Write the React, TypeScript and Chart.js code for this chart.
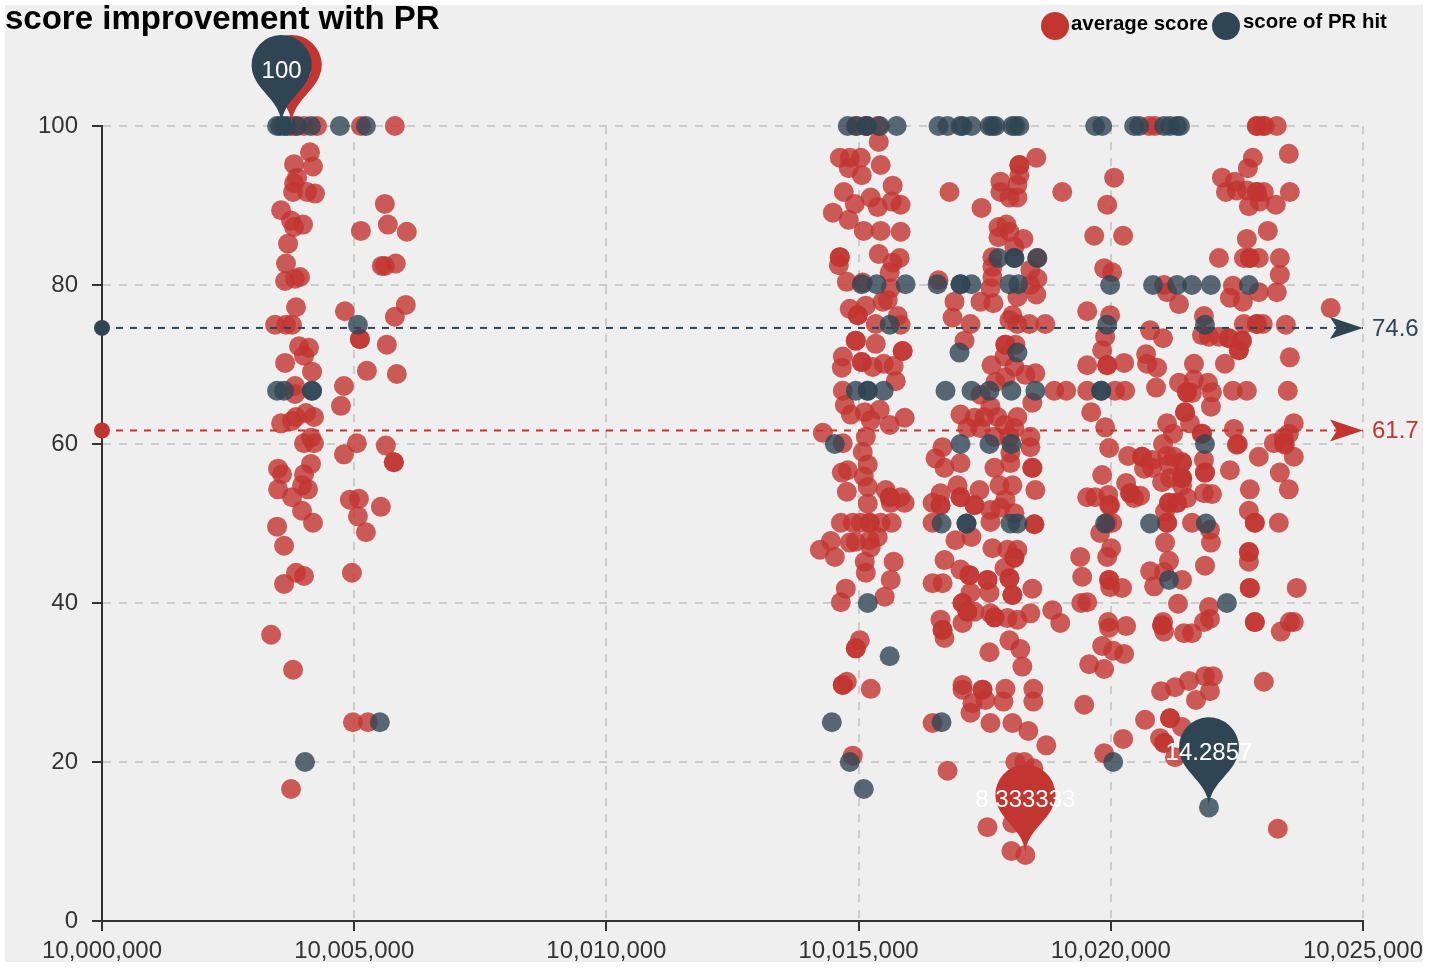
import React, { useEffect, useRef } from "react";
import { Chart, registerables } from "chart.js";

Chart.register(...registerables);

const titleText = "score improvement with PR";
const legendNames = ["average score", "score of PR hit"];
const firstPosition = 10000000;
const xSpan = 25000;
const xStep = 5000;
const yMax = 100;
const yStep = 20;
const averageMean = 61.7;
const hitMean = 74.6;

type P = [number, number];

// values: [position - firstPosition, score]
const avgLeftGroup: P[] = [
  [3748,100],[3827,100],[4005,100],[4263,100],
  [4124,96.7],[4183,94.9],[3808,95.2],[3867,93.5],[3808,92.8],[3788,91.7],[4065,91.7],[4223,91.5],[3550,89.4],[3748,88.1],[3808,87.3],[3986,87.6],[3689,85.2],[3649,82.7],[3630,80.5],[3827,80.8],[3926,81],[3847,77.2],
  [3432,75],[3649,75],[3768,75],[3906,72.3],[4104,72.1],[4005,71.1],[3630,70.2],[4164,69.1],[3827,67.3],[3827,66.3],[3847,63.4],[4045,63.9],[4203,63.4],[3550,62.6],[3768,62.9],[4144,60.8],[4005,60.1],[4203,60.1],
  [4144,57.5],[3491,56.9],[3570,56.2],[4005,56.2],[3966,54.8],[3491,54.3],[4085,54.3],[3768,53.3],[3966,51.6],[4183,50.1],[3471,49.6],[3610,47.2],[3847,43.8],[4005,43.4],[3610,42.4],[3353,36],[3788,31.6],[3748,16.6],
];
const avgSecondGroup: P[] = [
  [5133,100],[5806,100],
  [5608,90.2],[5667,87.6],[5133,86.8],[6043,86.7],[5548,82.4],[5608,82.4],[5825,82.7],[6023,77.5],[4816,76.7],[5806,76],[5113,73.2],[5113,73.2],[5647,72.5],[5252,69.2],[5845,68.8],[4797,67.3],[4737,64.8],
  [5054,60.1],[5628,59.8],[4797,58.7],[5786,57.7],[5786,57.7],[4915,53],[5094,53.1],[5529,52.1],[5074,50.9],[5232,48.9],[4955,43.8],[4975,25],[5272,25],
];
const avgMidA: P[] = [
  [14945,100],[15143,100],[15380,100],
  [15400,98],[14628,96],[14826,96],[15044,96],[14806,94.7],[15439,95.1],[15063,93.8],[14707,91.7],[15676,92.5],[15241,91],[14925,90.2],[15657,90.5],[15380,89.8],[15834,90.1],[14490,89.1],[14806,88.2],[15103,86.8],[15439,86.8],[15834,86.7],
  [15400,83.9],[14628,83.5],[14628,83.5],[14608,82.5],[15815,83.4],[15676,82.8],[15617,81.6],[14767,80.4],[15083,80.3],[15578,78.1],[15637,79.6],[15479,77.9],[15143,77.4],[14826,77],[14984,76.2],[14984,76.2],[15775,76.1],[15340,75.1],[15834,75],
  [14945,73],[14945,73],[15340,72.6],[15874,71.7],[15874,71.7],[14687,71],[15063,70.3],[15063,70.3],[15281,69.7],[15498,70.1],[15696,69.8],[14668,69.6],[15736,67.9],[14687,66.7],[14727,64.9],[14846,63.7],[15419,64.3],[15123,64],[15914,63.3],[15241,63],[15617,62.4],[15143,60.9],[14292,61.4],
  [14687,60.1],[15083,59],[15182,57.4],[14786,56.7],[14668,56.4],[15103,55.9],[15182,54.6],[14767,54],[15538,54.2],[15834,53.3],[15617,53.3],[15617,53.3],[15914,52.6],[15637,52.6],[15182,52.5],
  [14648,50.1],[14885,50.1],[15044,50.1],[15222,50.1],[15222,50.1],[15439,50.1],[15657,50.1],
  [14450,47.8],[14232,46.7],[14826,47.6],[14945,47.7],[15380,48.3],[15222,47.9],[15241,47],[14529,45.8],[15123,45.2],[15696,45.2],[15143,43.8],[15637,42.9],[14747,41.8],[15518,40.8],[14648,40.1],
  [15024,35.3],[14945,34.3],[14945,34.3],[14687,29.7],[14687,29.7],[14767,30.1],[15241,29.2],[14885,20.8],
];
const avgMidB: P[] = [
  [16803,91.7],[17437,89.7],[18524,96],[18188,95.1],[18188,95.1],[18188,93.8],[17812,93],[18149,92.6],[17812,91.7],[17991,91],[18149,91],[19038,91.7],
  [17773,87.3],[17931,87.6],[17991,86.7],[17773,86],[18267,85.8],[18089,84.8],[17654,83.5],[18544,83.4],[17654,82.3],[17654,81],[18406,81.9],[18544,80.8],[18406,80],[16585,80.6],[17615,79.6],
  [16902,77.9],[17417,77.9],[17674,77.7],[18149,78.5],[18524,78.8],[18050,76.2],[16863,75.9],[17219,75.1],[17991,75.6],[18149,75.1],[18386,75.1],[18702,75.1],
  [17100,73],[17911,72.5],[17911,72.5],[18109,72.5],[17635,69.9],[17892,71],[18089,69.7],[18505,68.9],[18307,68.7],[17714,67.8],[17911,68.4],
  [18880,66.7],[19118,66.7],[19533,66.7],[17417,66.2],[18445,65.2],[17615,64.7],[17021,63.7],[17298,63.3],[17496,63.4],[17753,63.4],[18149,63.4],[17892,62.4],[18089,62],[17159,62],[17417,62],[18406,60.9],[17694,60.9],[17991,60.9],
  [16665,59.6],[16526,58.2],[16704,57],[17021,57.6],[16962,54.8],[16625,53.8],[17397,54.2],[16467,52.6],[16625,52.3],[16625,52.3],[17021,53.3],[17021,53.3],[17298,52.3],[17298,52.3],[16467,50.1],
  [16922,47.9],[17239,48.3],[17654,46.9],[16704,45.4],[17021,44.2],[17199,43.5],[17199,43.5],[16467,42.5],[16665,42.5],[17555,42.9],[17219,41.3],[17061,40],[17061,40],[17159,38.9],[17159,38.9],[17298,38.9],[17061,37.5],[16625,37.9],[16665,36.6],[16665,36.6],[16704,35.6],
  [17694,57],[18010,57.6],[18010,58.9],[18406,59.6],[18445,57],[18445,57],[18505,54.2],[17793,54.8],[18050,54.8],[17911,53],[17615,51.7],[17812,52],[18089,51.3],[17615,50.2],[18485,49.9],[18485,49.9],
  [18149,46.7],[17951,46.7],[18089,45.7],[18089,45.7],[17892,44.4],[17991,43.1],[17991,43.1],[18445,41.8],[18050,41],[18050,41],[17555,42.9],[17595,41.3],[17694,38.2],[17694,38.2],[17615,38.7],[17951,38.1],[18149,37.9],[18406,38.7],[18841,39.1],[18999,37.5],
  [17991,35.3],[18208,34.2],[17595,33.8],[18247,32],[17061,29.7],[17061,29.1],[17457,29.1],[17457,29.1],[17516,27.8],[17911,29.2],[17872,27.6],[18465,29.2],[18465,27.6],[17258,27.4],[17219,26.2],[17615,24.9],[18050,24.9],[16467,24.9],[18366,23.9],[18722,22.1],
  [16764,18.9],[18109,20],[18287,20],[18465,19.2],[17555,11.8],[18050,12.3],[18030,8.8],[18307,8.3],
];
const avgRightA: P[] = [
  [20760,100],[20880,100],
  [20067,93.5],[19929,90.1],[19672,86.2],[20245,86.2],[19869,82.1],[20028,81.6],[19988,76.2],[19533,76.7],[19889,73.5],[19830,71.8],[19929,69.9],[19929,69.9],[20265,70.2],[19533,69.9],[20285,66.7],[20087,66.7],[19612,64],[19889,62.1],[19968,59.5],
  [19830,56.1],[19533,53.3],[19691,53.3],[19949,53.6],[19968,52.3],[19988,52.3],[20028,50.1],[19929,50.1],[19790,48.8],[20008,46.9],[19929,45.8],[19394,45.8],[19434,43.3],[19968,42.9],[19968,42.9],[19988,42],[20225,41.9],[19533,40.1],[19414,40],
  [19949,37.6],[19968,36.9],[20305,37.1],[19830,34.6],[20048,34],[20265,33.6],[19572,32.3],[19869,31.7],[19473,27.2],[20245,22.9],[19869,21.1],
  [20305,55.1],[20384,53.8],[20384,53.8],[20582,53.5],[20463,53.2],[20344,58.5],[20621,58.4],[20621,58.4],[20819,58],[20661,56.9],[20819,57],
];
const avgRightB: P[] = [
  [21057,80],[21116,79.1],[21353,77.6],[21848,76.1],[20780,74.3],[21037,73.3],[21808,73.7],[22145,73.5],[21947,73.5],[22599,73],[22342,73.3],[22540,71.8],[20701,71.3],[20720,70.1],[20918,69.6],[21650,70.1],[22263,70.1],
  [20898,67.1],[21353,67.7],[21650,68.1],[21511,66.5],[21511,66.5],[21927,67.7],[22006,66.5],[21610,66.4],[21986,64.7],[21472,64],[21472,64],[21571,62.6],[21116,62.6],[21235,61.3],[21808,61.3],[21808,61.3],[21037,60],
  [21254,58.4],[21116,58.5],[21413,57.7],[21413,57.7],[21848,58],[21155,57.4],[21868,56.4],[21868,56.4],[21175,55.7],[21413,55.7],[21413,55.7],[21413,55.7],[21017,55.2],[21413,54.8],[21511,53.2],[21848,53.8],[22006,53.7],
  [21314,52.6],[21314,52.6],[21155,52.6],[21155,52.6],[21076,51.5],[21116,50.1],[21116,50.1],[21610,50.1],[21967,49.2],[21076,47.6],[21986,47.6],
  [21155,45.3],[21868,44.7],[20780,44],[21057,43.9],[21413,42.9],[20859,42.1],[21333,39.9],[21947,39.5],[21037,37.6],[21017,37.2],[21017,37.2],[21057,36.4],[21452,36.2],[21610,36.2],[21848,37.6],[21967,38],
  [21868,30.8],[22026,30.8],[21551,30.2],[21274,29.4],[20997,28.9],[21967,28.9],[21689,27.8],[20681,25.3],[21175,25.5],[21175,25.5],[21413,24.4],[20977,23],[21057,22.4],[21057,22.4],[21274,20.6],
];
const avgFarRight: P[] = [
  [22896,100],[22896,100],[23015,100],[23055,100],[23292,100],
  [22817,96],[23530,96.5],[22718,94.7],[22204,93.5],[22461,93],[22283,91.7],[22500,91.9],[22698,91.9],[22896,91.7],[22896,91.7],[23035,91.7],[23550,91.7],[22738,89.9],[22955,90.5],[23272,90.1],
  [23114,86.8],[22698,85.8],[22145,83.4],[22639,83.4],[22757,83.4],[22757,83.4],[22935,83.4],[23352,83.4],[23352,81.3],[23292,79.1],[22421,79.9],[22935,79.1],[22362,78.4],[22619,77.9],
  [24360,77.1],[22639,75.1],[22896,75.1],[22896,75.1],[23015,75.1],[23471,75],[22599,73],[22342,73.3],[22540,71.8],[23550,70.9],
  [22421,66.7],[22698,66.7],[23510,66.7],[22441,61.9],[23629,62.6],[23431,60.8],[23530,61.3],[22520,60],[23233,60.1],[23431,60.1],[23451,59.9],
  [22500,59.9],[22935,58.4],[23629,58.4],[22362,56.7],[23352,56.4],[22757,54.3],[23530,54.3],[22738,51.6],[22856,50.1],[22856,50.1],[23332,50.1],[22738,46.4],[22738,46.4],[22738,45.2],[22757,41.9],[22757,41.9],[23687,41.9],
  [22856,37.6],[22856,37.6],[23550,37.6],[23629,37.6],[23371,36.4],[23035,30.1],[23312,11.6],
];
const avgScores: P[] = [
  ...avgLeftGroup, ...avgSecondGroup, ...avgMidA, ...avgMidB, ...avgRightA, ...avgRightB, ...avgFarRight,
];
const hitTopRow: P[] = [
  [3471,100],[3531,100],[3610,100],[3669,100],[3867,100],[4144,100],[4717,100],[5232,100],
  [14786,100],[14964,100],[15162,100],[15162,100],[15419,100],[15755,100],
  [16585,100],[16764,100],[17021,100],[17061,100],[17239,100],
  [17595,100],[17654,100],[17714,100],[18050,100],[18109,100],[18188,100],
  [19691,100],[19830,100],[20463,100],[20562,100],[21057,100],[21175,100],[21314,100],[21373,100],
];
const hitEighty: P[] = [
  [15063,80.1],[15360,80.1],[15933,80.1],[16566,80.1],[17021,80.1],[17021,80.1],[17239,80.1],[17991,80.1],[18168,80.1],[19988,80],[20839,80],[21314,80],[21610,80],[21986,80],[22738,80],
  [17773,83.4],[18089,83.4],[18089,83.4],[18544,83.4],
];
const hitMiddle: P[] = [
  [5074,75],[15617,75],[19929,75],[21868,75],[17001,71.5],[18149,71.5],
  [3471,66.7],[3610,66.7],[4164,66.7],[4164,66.7],[14945,66.7],[15182,66.7],[15182,66.7],[15498,66.7],[16724,66.7],[17239,66.7],[17595,66.7],[18030,66.7],[18505,66.7],[19810,66.7],[19810,66.7],
  [14529,60],[17021,60],[17595,60],[18030,60],[21868,60],
];
const hitLower: P[] = [
  [16645,50],[17140,50],[17140,50],[18010,50],[18149,50],[19889,50],[20780,50],[21887,50],
  [21155,42.9],[15182,40],[22303,40],[15617,33.3],[5509,25],[14470,25],[16645,25],[4025,20],[14826,20],[20048,20],[15103,16.6],[21947,14.2857],
];
const hitScores: P[] = [...hitTopRow, ...hitEighty, ...hitMiddle, ...hitLower];

const pinPoints = [
  { x: 3760, y: 100, label: "100", color: "#c23531" },
  { x: 3560, y: 100, label: "100", color: "#2f4554" },
  { x: 18307, y: 8.333333, label: "8.333333", color: "#c23531" },
  { x: 21947, y: 14.2857, label: "14.2857", color: "#2f4554" },
];

const RED = "#c23531";
const NAVY = "#2f4554";
const SANS = '"Liberation Sans", Arial, sans-serif';

const decorations = {
  id: "decorations",
  beforeDraw(chart: any) {
    const c = chart.ctx;
    c.save();
    c.fillStyle = "#ffffff";
    c.fillRect(0, 0, chart.width, chart.height);
    c.fillStyle = "#efefef";
    c.fillRect(5, 5, 1418, 957);
    c.restore();
  },
  afterDatasetsDraw(chart: any) {
    const c = chart.ctx;
    const xs = chart.scales.x;
    const ys = chart.scales.y;
    c.save();
    // mean-line arrowheads and their labels
    [
      { v: hitMean, color: NAVY },
      { v: averageMean, color: RED },
    ].forEach(({ v, color }) => {
      const tip = xs.right;
      const py = ys.getPixelForValue(v);
      c.fillStyle = color;
      c.beginPath();
      c.moveTo(tip, py);
      c.lineTo(tip - 33, py - 11);
      c.lineTo(tip - 26, py);
      c.lineTo(tip - 33, py + 11);
      c.closePath();
      c.fill();
      c.font = `24px ${SANS}`;
      c.textAlign = "left";
      c.textBaseline = "middle";
      c.fillText(String(v), tip + 9, py + 1);
    });
    // min / max pins
    pinPoints.forEach((p) => {
      const x = xs.getPixelForValue(firstPosition + p.x);
      const y = ys.getPixelForValue(p.y) - (p.y === yMax ? 1 : 0);
      const r = 30;
      const h = 102.5;
      const dy = (r * r) / (h - r);
      const cy = y - h + r + dy;
      const angle = Math.asin(dy / r);
      const dx = Math.cos(angle) * r;
      const tanX = Math.sin(angle);
      const tanY = Math.cos(angle);
      const cp = r * 0.6;
      const cp2 = r * 0.7;
      c.fillStyle = p.color;
      c.beginPath();
      c.moveTo(x - dx, cy + dy);
      c.arc(x, cy, r, Math.PI - angle, Math.PI * 2 + angle);
      c.bezierCurveTo(x + dx - tanX * cp, cy + dy + tanY * cp, x, y - cp2, x, y);
      c.bezierCurveTo(x, y - cp2, x - dx + tanX * cp, cy + dy + tanY * cp, x - dx, cy + dy);
      c.closePath();
      c.fill();
      c.font = `24px ${SANS}`;
      c.textAlign = "center";
      c.textBaseline = "middle";
      c.fillStyle = "#ffffff";
      c.fillText(p.label, x, y - 54);
    });
    // title
    c.fillStyle = "#000000";
    c.textAlign = "left";
    c.textBaseline = "alphabetic";
    c.font = `bold 33px ${SANS}`;
    c.fillText(titleText, 5, 29);
    // legend
    const legend = [
      { cx: 1055, cy: 26, color: RED, tx: 1071, ty: 30, name: legendNames[0] },
      { cx: 1226, cy: 26, color: NAVY, tx: 1243, ty: 28, name: legendNames[1] },
    ];
    legend.forEach((l) => {
      c.fillStyle = l.color;
      c.beginPath();
      c.arc(l.cx, l.cy, 14, 0, Math.PI * 2);
      c.fill();
      c.fillStyle = "#000000";
      c.font = `bold 20.4px ${SANS}`;
      c.fillText(l.name, l.tx, l.ty);
    });
    // the photo's edges cut the outer labels
    c.fillStyle = "#ffffff";
    c.fillRect(1423, 0, 6, chart.height);
    c.fillRect(0, 962, chart.width, 6);
    c.restore();
  },
};

function toPoints(list: P[]) {
  return list.map(([x, y]) => ({ x: firstPosition + x, y }));
}

function meanLine(label: string, v: number, color: string, order: number) {
  return {
    label,
    data: [
      { x: firstPosition, y: v },
      { x: firstPosition + xSpan, y: v },
    ],
    showLine: true,
    borderColor: color,
    borderWidth: 2,
    borderDash: [7, 7],
    backgroundColor: color,
    pointRadius: [8, 0],
    pointBorderWidth: 0,
    clip: false,
    order,
  };
}

export default function App() {
  const ref = useRef<HTMLCanvasElement>(null);
  useEffect(() => {
    document.body.style.margin = "0";
    document.body.style.background = "#ffffff";
    const chart = new Chart(ref.current as HTMLCanvasElement, {
      type: "scatter",
      data: {
        datasets: [
          meanLine("mean of PR hit", hitMean, NAVY, 0),
          meanLine("mean of average score", averageMean, RED, 1),
          {
            label: legendNames[1],
            data: toPoints(hitScores),
            backgroundColor: "rgba(47,69,84,0.8)",
            pointRadius: 10,
            pointBorderWidth: 0,
            clip: false,
            order: 2,
          },
          {
            label: legendNames[0],
            data: toPoints(avgScores),
            backgroundColor: "rgba(194,53,49,0.8)",
            pointRadius: 10,
            pointBorderWidth: 0,
            clip: false,
            order: 3,
          },
        ] as any,
      },
      options: {
        responsive: false,
        animation: false,
        layout: { padding: { top: 126, right: 63, left: 0, bottom: 0 } },
        plugins: {
          legend: { display: false },
          title: { display: false },
          tooltip: { enabled: false },
        },
        scales: {
          x: {
            type: "linear",
            min: firstPosition,
            max: firstPosition + xSpan,
            afterFit: (s: any) => {
              s.height = 47;
            },
            ticks: {
              stepSize: xStep,
              maxRotation: 0,
              autoSkip: false,
              padding: 6,
              color: "#333333",
              font: { size: 24, family: SANS },
              callback: (v: any) => Number(v).toLocaleString("en-US"),
            },
            border: { display: true, color: "#333333", width: 2, dash: [8, 8] },
            grid: { color: "#cccccc", lineWidth: 2, tickColor: "#333333", tickLength: 10, tickWidth: 2 },
          },
          y: {
            type: "linear",
            min: 0,
            max: yMax,
            afterFit: (s: any) => {
              s.width = 102;
            },
            ticks: {
              stepSize: yStep,
              padding: 14,
              color: "#333333",
              font: { size: 24, family: SANS },
            },
            border: { display: true, color: "#333333", width: 2, dash: [8, 8] },
            grid: { color: "#cccccc", lineWidth: 2, tickColor: "#333333", tickLength: 10, tickWidth: 2 },
          },
        },
      } as any,
      plugins: [decorations],
    });
    return () => chart.destroy();
  }, []);
  return <canvas ref={ref} width={1429} height={968} style={{ display: "block" }} />;
}
